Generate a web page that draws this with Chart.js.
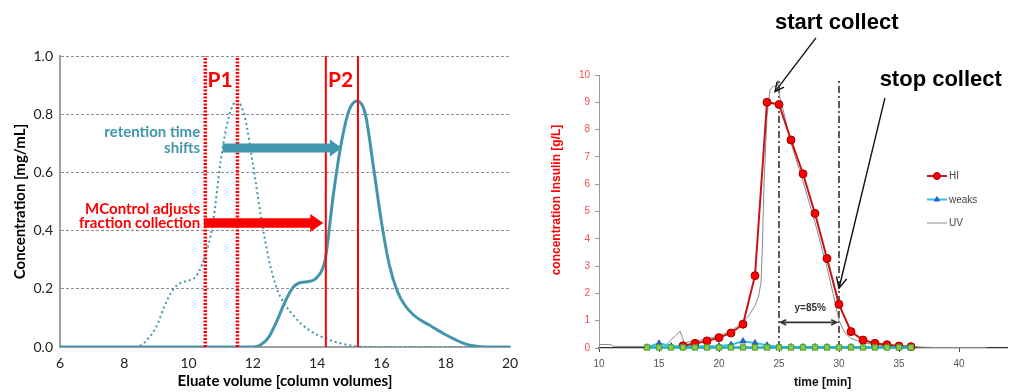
<!DOCTYPE html>
<html>
<head>
<meta charset="utf-8">
<script src="https://cdn.jsdelivr.net/npm/chart.js@4.4.1/dist/chart.umd.min.js"></script>
<style>
  html, body { margin: 0; padding: 0; background: #fff; }
  #wrap { position: relative; width: 1016px; height: 392px; overflow: hidden; }
  #leftChart { position: absolute; left: 0; top: 0; }
  #rightChart { position: absolute; left: 520px; top: 0; }
</style>
</head>
<body>
<div id="wrap">
  <canvas id="leftChart" width="520" height="392"></canvas>
  <canvas id="rightChart" width="496" height="392"></canvas>
</div>
<script>
// ---- left panel: elution profiles ----
const eluateVolume = [6, 6.5, 7, 7.5, 8, 8.25, 8.5, 8.75, 9, 9.25, 9.5, 9.75, 10, 10.25, 10.5, 10.75, 11, 11.25, 11.5, 11.75,
  12, 12.25, 12.5, 12.75, 13, 13.25, 13.5, 13.75, 14, 14.25, 14.5, 14.75, 15, 15.25, 15.5, 15.75,
  16, 16.25, 16.5, 16.75, 17, 17.25, 17.5, 17.75, 18, 18.25, 18.5, 18.75, 19, 19.5, 20];
const expectedConc = [0, 0, 0, 0, 0, 0, 0.005, 0.03, 0.07, 0.14, 0.195, 0.22, 0.228, 0.245, 0.31, 0.42, 0.64, 0.79, 0.845, 0.79,
  0.63, 0.45, 0.3, 0.2, 0.145, 0.11, 0.08, 0.058, 0.042, 0.03, 0.02, 0.012, 0.006, 0.002, 0, 0,
  0, 0, 0, 0, 0, 0, 0, 0, 0, 0, 0, 0, 0, 0, 0];
const shiftedConc = [0, 0, 0, 0, 0, 0, 0, 0, 0, 0, 0, 0, 0, 0, 0, 0, 0, 0, 0, 0,
  0, 0.008, 0.035, 0.09, 0.155, 0.205, 0.222, 0.225, 0.24, 0.3, 0.52, 0.7, 0.815, 0.845, 0.8, 0.62,
  0.43, 0.28, 0.19, 0.14, 0.11, 0.09, 0.075, 0.058, 0.042, 0.028, 0.015, 0.006, 0.002, 0, 0];
const cutsExpected = [10.52, 11.52];
const cutsAdjusted = [14.27, 15.27];

// ---- right panel: insulin run ----
const fractionTime = [14, 15, 16, 17, 18, 19, 20, 21, 22, 23, 24, 25, 26, 27, 28, 29, 30, 31, 32, 33, 34, 35, 36];
const weaksConc = [0.03, 0.17, 0.07, 0.06, 0.06, 0.06, 0.07, 0.12, 0.25, 0.18, 0.1, 0.05, 0.04, 0.04, 0.04, 0.04, 0.04, 0.04, 0.04, 0.03, 0.03, 0.03, 0.03];
const strongsConc = [0.02, 0.02, 0.02, 0.02, 0.02, 0.02, 0.02, 0.02, 0.02, 0.02, 0.02, 0.02, 0.02, 0.02, 0.02, 0.02, 0.02, 0.02, 0.02, 0.02, 0.02, 0.02, 0.02];
const hiTime = [17, 18, 19, 20, 21, 22, 23, 24, 25, 26, 27, 28, 29, 30, 31, 32, 33, 34, 35, 36];
const hiConc = [0.08, 0.17, 0.26, 0.38, 0.55, 0.87, 2.65, 9.0, 8.92, 7.62, 6.38, 4.93, 3.28, 1.6, 0.6, 0.29, 0.17, 0.12, 0.07, 0.05];
const uvTime = [10, 11, 11.2, 13, 15, 15.5, 16, 16.4, 16.75, 17.1, 17.5, 18, 19, 20, 21, 22, 22.5, 23, 23.3, 23.5, 23.6, 23.75,
  24, 24.25, 24.5, 24.8, 24.9, 25, 25.3, 26, 27, 28, 29, 29.5, 30, 30.5, 31, 32, 33, 34, 35, 36, 37, 38, 40, 42.3];
const uvSignal = [0.13, 0.12, 0.06, 0.06, 0.06, 0.08, 0.3, 0.45, 0.62, 0.2, 0.22, 0.25, 0.33, 0.45, 0.62, 0.95, 1.2, 1.55, 1.9, 2.4, 3.5, 6.0,
  8.5, 9.45, 9.58, 9.6, 9.8, 9.3, 8.8, 7.5, 6.1, 4.6, 2.95, 2.0, 1.0, 0.55, 0.35, 0.2, 0.12, 0.08, 0.06, 0.05, 0.03, 0.02, 0.02, 0.02];
const collectWindow = [25, 30];
const collectTop = 9.8;

const TEAL = '#4196ae';
const RED = '#ff0000';

function pairs(xs, ys) {
    return xs.map((v, i) => ({ x: v, y: ys[i] }));
}

function vline(xv, top) {
    return [{ x: xv, y: 0 }, { x: xv, y: top }];
}

function blockArrow(ctx, x0, x1, yc, shaft, headH, headL, color) {
    ctx.fillStyle = color;
    ctx.beginPath();
    ctx.moveTo(x0, yc - shaft / 2);
    ctx.lineTo(x1 - headL, yc - shaft / 2);
    ctx.lineTo(x1 - headL, yc - headH / 2);
    ctx.lineTo(x1, yc);
    ctx.lineTo(x1 - headL, yc + headH / 2);
    ctx.lineTo(x1 - headL, yc + shaft / 2);
    ctx.lineTo(x0, yc + shaft / 2);
    ctx.closePath();
    ctx.fill();
}

function lineArrow(ctx, x0, y0, x1, y1, head, both) {
    ctx.beginPath();
    ctx.moveTo(x0, y0);
    ctx.lineTo(x1, y1);
    ctx.stroke();
    const tips = both ? [[x1, y1, x0, y0], [x0, y0, x1, y1]] : [[x1, y1, x0, y0]];
    tips.forEach(([tx, ty, fx, fy]) => {
        const a = Math.atan2(ty - fy, tx - fx);
        ctx.beginPath();
        ctx.moveTo(tx - head * Math.cos(a - 0.45), ty - head * Math.sin(a - 0.45));
        ctx.lineTo(tx, ty);
        ctx.lineTo(tx - head * Math.cos(a + 0.45), ty - head * Math.sin(a + 0.45));
        ctx.stroke();
    });
}

const leftNotes = {
    id: 'leftNotes',
    afterDatasetsDraw(chart) {
        const { ctx, scales: { x, y } } = chart;
        ctx.save();
        ctx.textBaseline = 'middle';

        ctx.fillStyle = RED;
        ctx.font = 'bold 21px Lato';
        ctx.textAlign = 'center';
        ctx.fillText('P1', x.getPixelForValue(10.98), y.getPixelForValue(0.918));
        ctx.fillText('P2', x.getPixelForValue(14.73), y.getPixelForValue(0.918));

        blockArrow(ctx, x.getPixelForValue(11.06), x.getPixelForValue(14.77), y.getPixelForValue(0.684), 9, 17, 12, TEAL);
        blockArrow(ctx, x.getPixelForValue(10.48), x.getPixelForValue(14.19), y.getPixelForValue(0.426), 9.5, 18, 13, RED);

        ctx.font = 'bold 15px Lato';
        ctx.textAlign = 'right';
        const tx = x.getPixelForValue(10.36);
        ctx.fillStyle = TEAL;
        ctx.fillText('retention time', tx, y.getPixelForValue(0.738));
        ctx.fillText('shifts', tx, y.getPixelForValue(0.683));
        ctx.fillStyle = RED;
        ctx.fillText('MControl adjusts', tx, y.getPixelForValue(0.473));
        ctx.fillText('fraction collection', tx, y.getPixelForValue(0.425));
        ctx.restore();
    }
};

new Chart(document.getElementById('leftChart').getContext('2d'), {
    type: 'line',
    data: {
        datasets: [
            ...cutsAdjusted.map(c => ({ data: vline(c, 1), borderColor: RED, borderWidth: 2, pointRadius: 0 })),
            ...cutsExpected.map(c => ({ data: vline(c, 1), borderColor: RED, borderWidth: 3.5, borderDash: [2, 1.5], pointRadius: 0 })),
            {
                label: 'shifted',
                data: pairs(eluateVolume, shiftedConc),
                borderColor: TEAL,
                borderWidth: 3,
                pointRadius: 0,
                cubicInterpolationMode: 'monotone'
            },
            {
                label: 'expected',
                data: pairs(eluateVolume, expectedConc),
                borderColor: TEAL,
                borderWidth: 2,
                borderDash: [2, 3],
                pointRadius: 0,
                cubicInterpolationMode: 'monotone'
            }
        ]
    },
    options: {
        responsive: false,
        animation: false,
        devicePixelRatio: 1,
        layout: { padding: { left: 0, right: 10, top: 56, bottom: 0 } },
        plugins: { legend: { display: false }, tooltip: { enabled: false } },
        scales: {
            x: {
                type: 'linear',
                min: 6,
                max: 20,
                afterFit: s => { s.height = 45; },
                ticks: { stepSize: 2, padding: 0, color: '#222', font: { family: 'Lato', size: 14 } },
                grid: { display: false },
                border: { color: '#a0a0a0', width: 2 },
                title: { display: true, text: 'Eluate volume [column volumes]', color: '#000', font: { family: 'Lato', size: 15, weight: 'bold' }, padding: { top: 0, bottom: 2 } }
            },
            y: {
                min: 0,
                max: 1,
                afterFit: s => { s.width = 60; },
                ticks: { stepSize: 0.2, padding: 7, color: '#222', font: { family: 'Lato', size: 14 }, callback: v => v.toFixed(1) },
                grid: { color: '#909090', lineWidth: 1, drawTicks: false },
                border: { color: '#a0a0a0', width: 2, dash: [3, 2] },
                title: { display: true, text: 'Concentration [mg/mL]', color: '#000', font: { family: 'Lato', size: 15, weight: 'bold' }, padding: { top: 11, bottom: 0 } }
            }
        }
    },
    plugins: [leftNotes]
});

const rightNotes = {
    id: 'rightNotes',
    afterDatasetsDraw(chart) {
        const { ctx, chartArea, scales: { x, y } } = chart;
        const px = v => x.getPixelForValue(v);
        const py = v => y.getPixelForValue(v);
        ctx.save();
        ctx.textBaseline = 'middle';
        ctx.textAlign = 'center';

        ctx.fillStyle = '#000';
        ctx.font = 'bold 22px "Liberation Sans", Arial';
        ctx.fillText('start collect', px(29.81), py(11.92));
        ctx.fillText('stop collect', px(38.48), py(9.82));

        ctx.strokeStyle = '#111';
        ctx.lineWidth = 1.4;
        lineArrow(ctx, px(28.08), py(11.36), px(24.67), py(9.39), 10, false);
        lineArrow(ctx, px(33.83), py(9.16), px(30.0), py(2.19), 12, false);

        ctx.strokeStyle = '#333';
        ctx.lineWidth = 1.6;
        lineArrow(ctx, px(25.15), py(0.94), px(29.8), py(0.94), 6, true);
        ctx.fillStyle = '#333';
        ctx.font = 'bold 10px "Liberation Sans", Arial';
        ctx.fillText('y=85%', px(27.6), py(1.45));

        ctx.fillStyle = '#111';
        ctx.font = 'bold 12px "Liberation Sans", Arial';
        ctx.fillText('time [min]', px(28.64), chartArea.bottom + 35);

        ctx.save();
        ctx.translate(37, py(5.42));
        ctx.rotate(-Math.PI / 2);
        ctx.fillStyle = '#ff0000';
        ctx.fillText('concentration Insulin [g/L]', 0, 0);
        ctx.restore();

        // legend
        const lx = px(37.33);
        const ly = py(6.3);
        const rows = [
            { label: 'HI', ds: 0 },
            { label: 'weaks', ds: 1 },
            { label: 'UV', ds: 3 }
        ];
        ctx.font = '10px "Liberation Sans", Arial';
        ctx.textAlign = 'left';
        rows.forEach((r, i) => {
            const d = chart.data.datasets[r.ds];
            const yy = ly + i * 23.5;
            ctx.strokeStyle = d.borderColor;
            ctx.lineWidth = d.borderWidth;
            ctx.beginPath();
            ctx.moveTo(lx, yy);
            ctx.lineTo(lx + 20, yy);
            ctx.stroke();
            if (d.pointRadius) {
                ctx.fillStyle = d.pointBackgroundColor;
                ctx.strokeStyle = d.pointBorderColor;
                ctx.lineWidth = 1;
                Chart.helpers.drawPoint(ctx, { pointStyle: d.pointStyle, radius: d.pointRadius - 0.5, borderWidth: 1 }, lx + 10, yy);
            }
            ctx.fillStyle = '#444';
            ctx.fillText(r.label, lx + 22, yy + 0.5);
        });
        ctx.restore();
    }
};

new Chart(document.getElementById('rightChart').getContext('2d'), {
    type: 'line',
    data: {
        datasets: [
            {
                label: 'HI',
                data: pairs(hiTime, hiConc),
                order: 1,
                clip: false,
                borderColor: '#c81414',
                borderWidth: 2,
                pointStyle: 'circle',
                pointRadius: 4,
                pointBackgroundColor: '#ff0000',
                pointBorderColor: '#a00000',
                pointBorderWidth: 1
            },
            {
                label: 'weaks',
                data: pairs(fractionTime, weaksConc),
                order: 2,
                clip: false,
                borderColor: '#2ec4f0',
                borderWidth: 2,
                pointStyle: 'triangle',
                pointRadius: 3.5,
                pointBackgroundColor: '#2f62b8',
                pointBorderColor: '#2f62b8',
                pointBorderWidth: 1
            },
            {
                label: 'strongs',
                data: pairs(fractionTime, strongsConc),
                order: 0,
                clip: false,
                borderColor: '#1fb3c9',
                borderWidth: 2.5,
                pointStyle: 'rect',
                pointRadius: 3.8,
                pointBackgroundColor: '#8ccc4a',
                pointBorderColor: '#4f9a2a',
                pointBorderWidth: 1
            },
            {
                label: 'UV',
                data: pairs(uvTime, uvSignal),
                order: 3,
                borderColor: '#8a8a8a',
                borderWidth: 1,
                pointRadius: 0
            },
            ...collectWindow.map(t => ({
                data: vline(t, collectTop),
                order: 4,
                borderColor: '#333',
                borderWidth: 1.6,
                borderDash: [7, 3, 2, 3],
                pointRadius: 0
            }))
        ]
    },
    options: {
        responsive: false,
        animation: false,
        devicePixelRatio: 1,
        layout: { padding: { left: 0, right: 9, top: 75, bottom: 0 } },
        plugins: { legend: { display: false }, tooltip: { enabled: false } },
        scales: {
            x: {
                type: 'linear',
                min: 10,
                max: 44,
                afterFit: s => { s.height = 44; },
                ticks: { stepSize: 5, includeBounds: false, padding: 6, color: '#555', font: { family: 'Liberation Sans', size: 10 } },
                grid: { drawOnChartArea: false, tickLength: 4, color: '#444' },
                border: { color: '#333', width: 1.2 }
            },
            y: {
                min: 0,
                max: 10,
                afterFit: s => { s.width = 79; },
                ticks: { stepSize: 1, padding: 5, color: '#ff4a4a', font: { family: 'Liberation Sans', size: 10 } },
                grid: { drawOnChartArea: false, tickLength: 4, color: '#999' },
                border: { color: '#999', width: 1 }
            }
        }
    },
    plugins: [rightNotes]
});
</script>
</body>
</html>
